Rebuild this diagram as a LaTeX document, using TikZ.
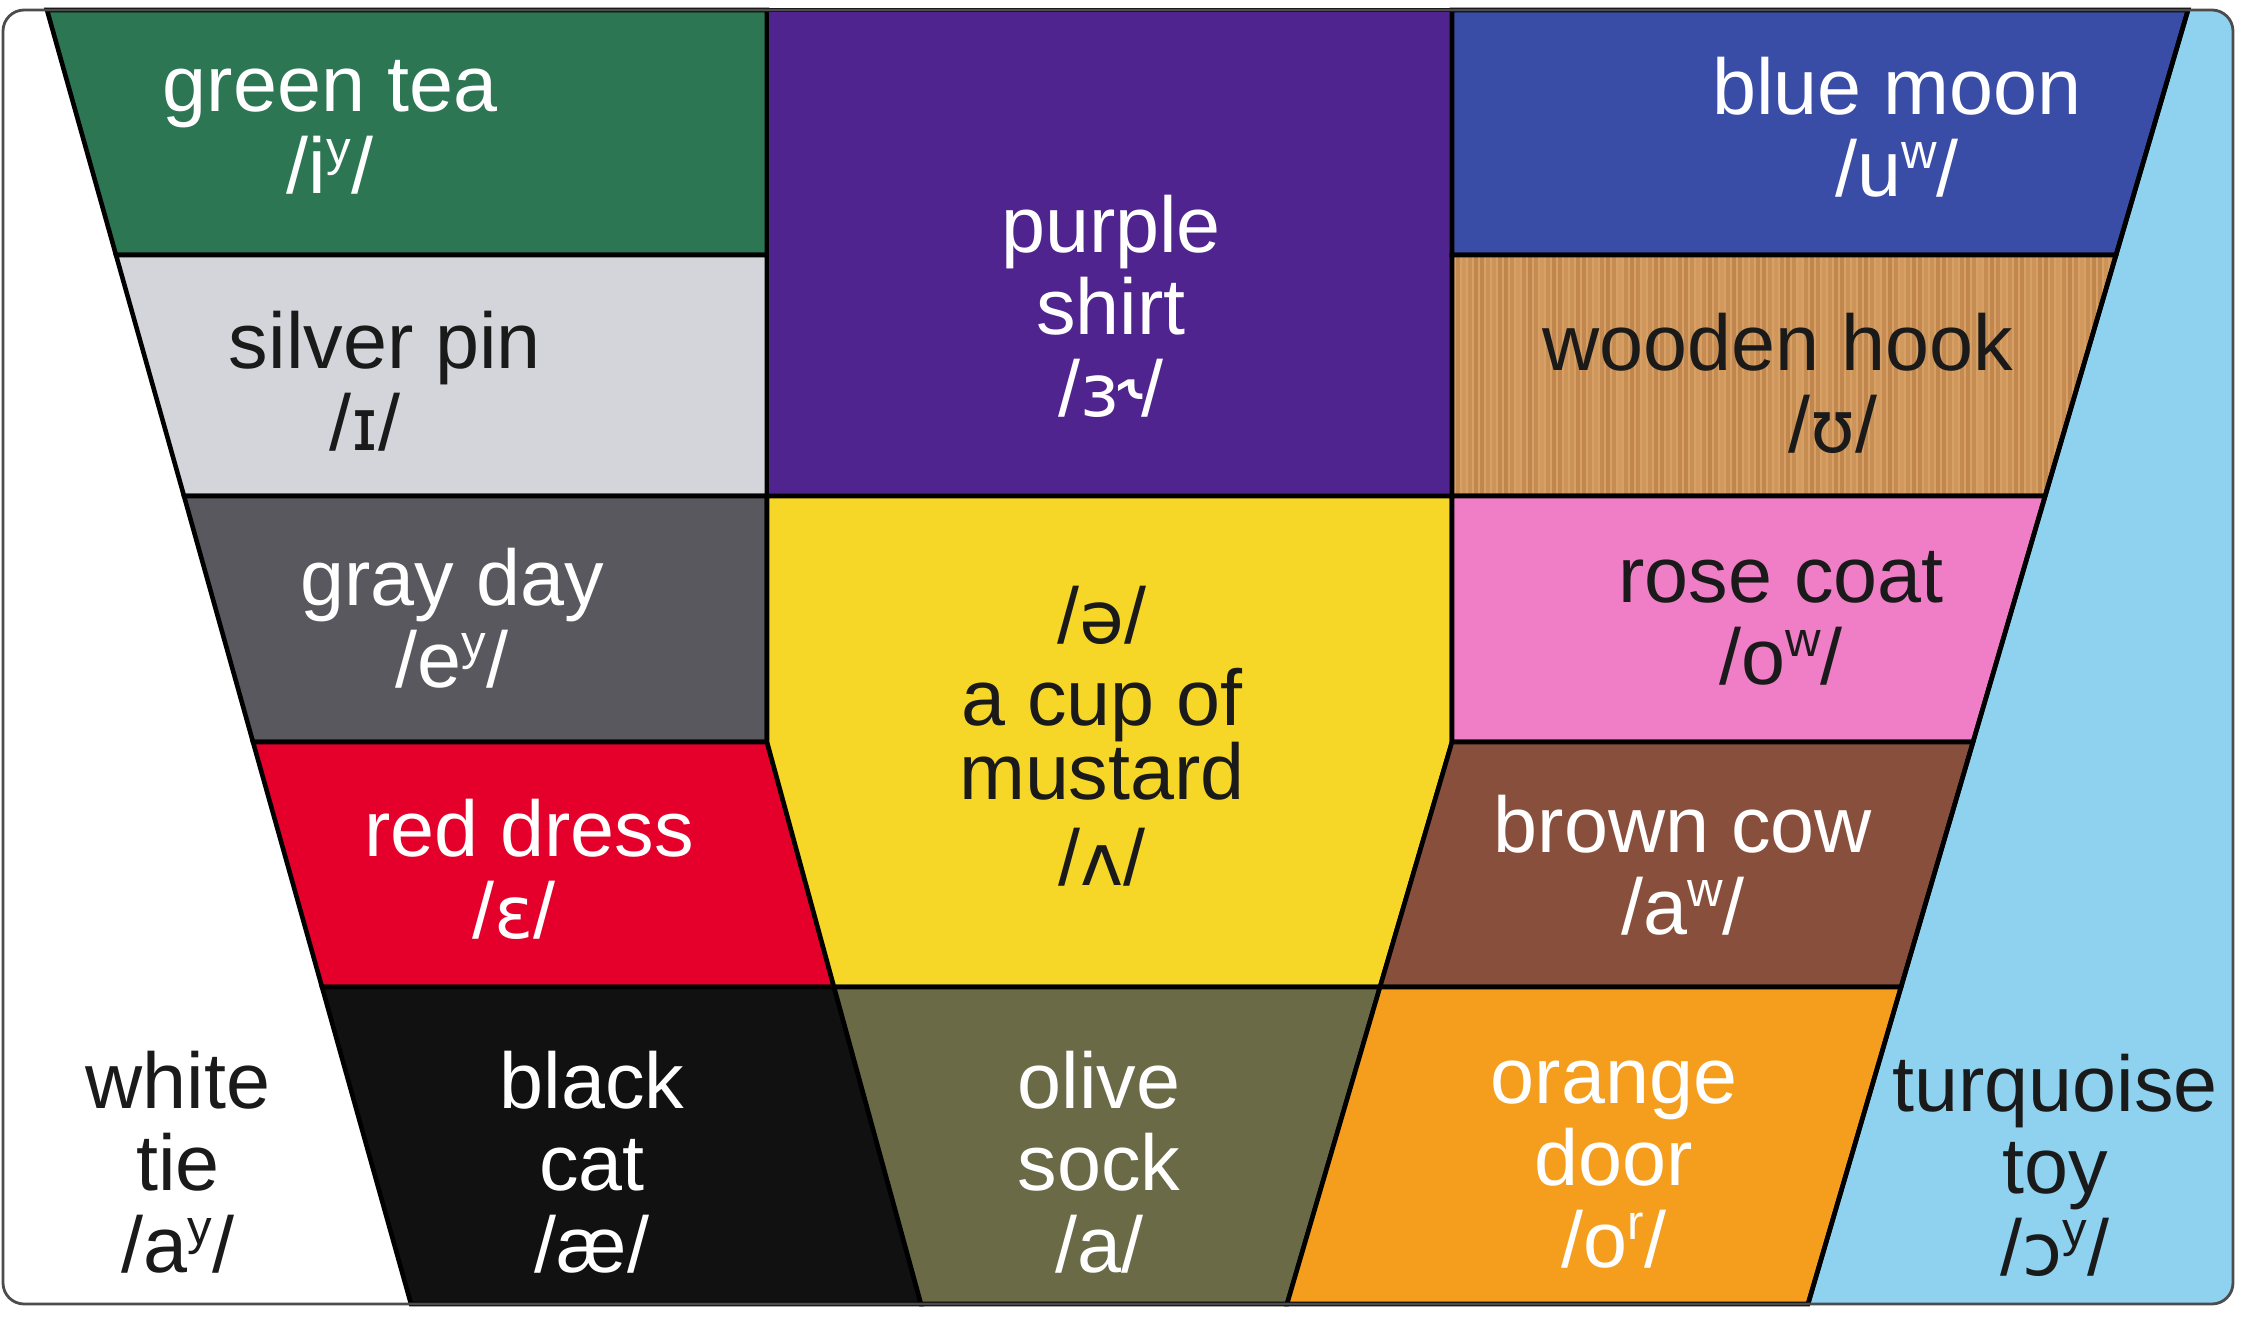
\documentclass[tikz,border=0pt]{standalone}
\usepackage{fontspec}
\setmainfont{Liberation Sans}
\newfontfamily\ipafont{DejaVu Sans}[Scale=0.92]
\usetikzlibrary{calc}
\usepackage{xcolor}
\definecolor{teagreen}{HTML}{2D7653}
\definecolor{pinsilver}{HTML}{D3D5DA}
\definecolor{dayslate}{HTML}{58585E}
\definecolor{dressred}{HTML}{E4002B}
\definecolor{catblack}{HTML}{111111}
\definecolor{shirtpurple}{HTML}{50248F}
\definecolor{mustardyellow}{HTML}{F6D728}
\definecolor{sockolive}{HTML}{6A6A46}
\definecolor{moonblue}{HTML}{3A4DA6}
\definecolor{woodbase}{HTML}{D7A064}
\definecolor{wooddark}{HTML}{A86A35}
\definecolor{rosepink}{HTML}{EF7EC6}
\definecolor{cowbrown}{HTML}{88503C}
\definecolor{doororange}{HTML}{F59E1E}
\definecolor{toyblue}{HTML}{8ED2F0}
\definecolor{inkblack}{HTML}{1A1A1A}

\newcommand\ipa[1]{{\ipafont #1}}
\newcommand\supl[1]{\raisebox{8pt}{\fontsize{14}{14}\selectfont #1}}

\begin{document}
\begin{tikzpicture}[x=0.01cm, y=-0.01cm,
		cell/.style={draw=black, line width=1.3pt},
		cardedge/.style={draw=black!70, line width=0.8pt, rounded corners=6pt},
		word/.style={align=center, inner sep=0pt, font={\fontsize{22.5}{23.3}\selectfont}},
		onlight/.style={word, text=inkblack},
		ondark/.style={word, text=white}
	]
	% --- Page and card ---
	\useasboundingbox (0,0) rectangle (2247,1321);
	\fill[white, rounded corners=6pt] (3,10) rectangle (2233,1304);

	% --- Grid corners (left edge, two dividers, right edge) ---
	\coordinate (a0) at (47,10);   \coordinate (a1) at (116,255);  \coordinate (a2) at (184,496);
	\coordinate (a3) at (253,742); \coordinate (a4) at (322,987);  \coordinate (a5) at (411,1304);
	\coordinate (b0) at (767,10);  \coordinate (b1) at (767,255);  \coordinate (b2) at (767,496);
	\coordinate (b3) at (767,742); \coordinate (b4) at (834,987);  \coordinate (b5) at (921,1304);
	\coordinate (c0) at (1452,10); \coordinate (c1) at (1452,255); \coordinate (c2) at (1452,496);
	\coordinate (c3) at (1452,742);\coordinate (c4) at (1380,987); \coordinate (c5) at (1287,1304);
	\coordinate (d0) at (2188,10); \coordinate (d1) at (2116,255); \coordinate (d2) at (2045,496);
	\coordinate (d3) at (1973,742);\coordinate (d4) at (1901,987); \coordinate (d5) at (1808,1304);

	% --- Turquoise strip, cut by the card corners ---
	\begin{scope}
		\clip[rounded corners=6pt] (3,10) rectangle (2233,1304);
		\fill[toyblue] (d0) -- (2240,10) -- (2240,1304) -- (d5) -- cycle;
	\end{scope}

	% --- Left column ---
	\filldraw[cell, fill=teagreen] (a0) -- (b0) -- (b1) -- (a1) -- cycle;
	\filldraw[cell, fill=pinsilver] (a1) -- (b1) -- (b2) -- (a2) -- cycle;
	\filldraw[cell, fill=dayslate] (a2) -- (b2) -- (b3) -- (a3) -- cycle;
	\filldraw[cell, fill=dressred] (a3) -- (b3) -- (b4) -- (a4) -- cycle;
	\filldraw[cell, fill=catblack] (a4) -- (b4) -- (b5) -- (a5) -- cycle;

	% --- Middle column ---
	\filldraw[cell, fill=shirtpurple] (b0) -- (c0) -- (c2) -- (b2) -- cycle;
	\filldraw[cell, fill=mustardyellow] (b2) -- (c2) -- (c3) -- (c4) -- (b4) -- (b3) -- cycle;
	\filldraw[cell, fill=sockolive] (b4) -- (c4) -- (c5) -- (b5) -- cycle;

	% --- Right column ---
	\filldraw[cell, fill=moonblue] (c0) -- (d0) -- (d1) -- (c1) -- cycle;
	\begin{scope}
		\clip (c1) -- (d1) -- (d2) -- (c2) -- cycle;
		\fill[woodbase] (c1) -- (d1) -- (d2) -- (c2) -- cycle;
		\foreach \x in {1452,1458,...,2120} {
			\pgfmathsetmacro\grain{0.08+0.4*abs(sin(\x*7))}
			\draw[wooddark, opacity=\grain, line width=1.3pt] (\x,255) -- (\x,496);
		}
	\end{scope}
	\draw[cell] (c1) -- (d1) -- (d2) -- (c2) -- cycle;
	\filldraw[cell, fill=rosepink] (c2) -- (d2) -- (d3) -- (c3) -- cycle;
	\filldraw[cell, fill=cowbrown] (c3) -- (d3) -- (d4) -- (c4) -- cycle;
	\filldraw[cell, fill=doororange] (c4) -- (d4) -- (d5) -- (c5) -- cycle;
	\draw[cell] (d0) -- (d5);

	% --- Card outline ---
	\draw[cardedge] (3,10) rectangle (2233,1304);

	% --- Labels ---
	\node[ondark] (greenTxt) at (330,127) {green tea\\/i\supl{y}/};
	\node[onlight] (silverTxt) at (385,381) {silver pin\\/\ipa{ɪ}/\hspace*{0.4cm}};
	\node[ondark] (grayTxt) at (452,618) {gray day\\/e\supl{y}/};
	\node[ondark] (redTxt) at (529,869) {red dress\\/\ipa{ɛ}/\hspace*{0.3cm}};
	\node[onlight] (whiteTxt) at (178,1162) {white\\tie\\/a\supl{y}/};
	\node[ondark] (blackTxt) at (592,1162) {black\\cat\\/æ/};

	\node[ondark] (purpleTxt) at (1111,306) {purple\\shirt\\/\ipa{ɜ˞}/};
	\node[onlight] (yellowTxt) at (1102,736) {/\ipa{ə}/\\[0pt]a cup of\\[-2pt]mustard\\[1pt]/\ipa{ʌ}/};
	\node[ondark] (oliveTxt) at (1099,1162) {olive\\sock\\/a/};

	\node[ondark] (blueTxt) at (1897,127) {blue moon\\/u\supl{w}/};
	\node[onlight] (woodTxt) at (1778,383) {wooden hook\\\hspace*{1.1cm}/\ipa{ʊ}/};
	\node[onlight] (pinkTxt) at (1781,618) {rose coat\\/o\supl{w}/};
	\node[ondark] (brownTxt) at (1683,865) {brown cow\\/a\supl{w}/};
	\node[ondark] (orangeTxt) at (1614,1165) {orange\\door\\/o\supl{r}/};
	\node[onlight] (toyTxt) at (2055,1165) {turquoise\\toy\\/\ipa{ɔ}\supl{y}/};
\end{tikzpicture}
\end{document}
